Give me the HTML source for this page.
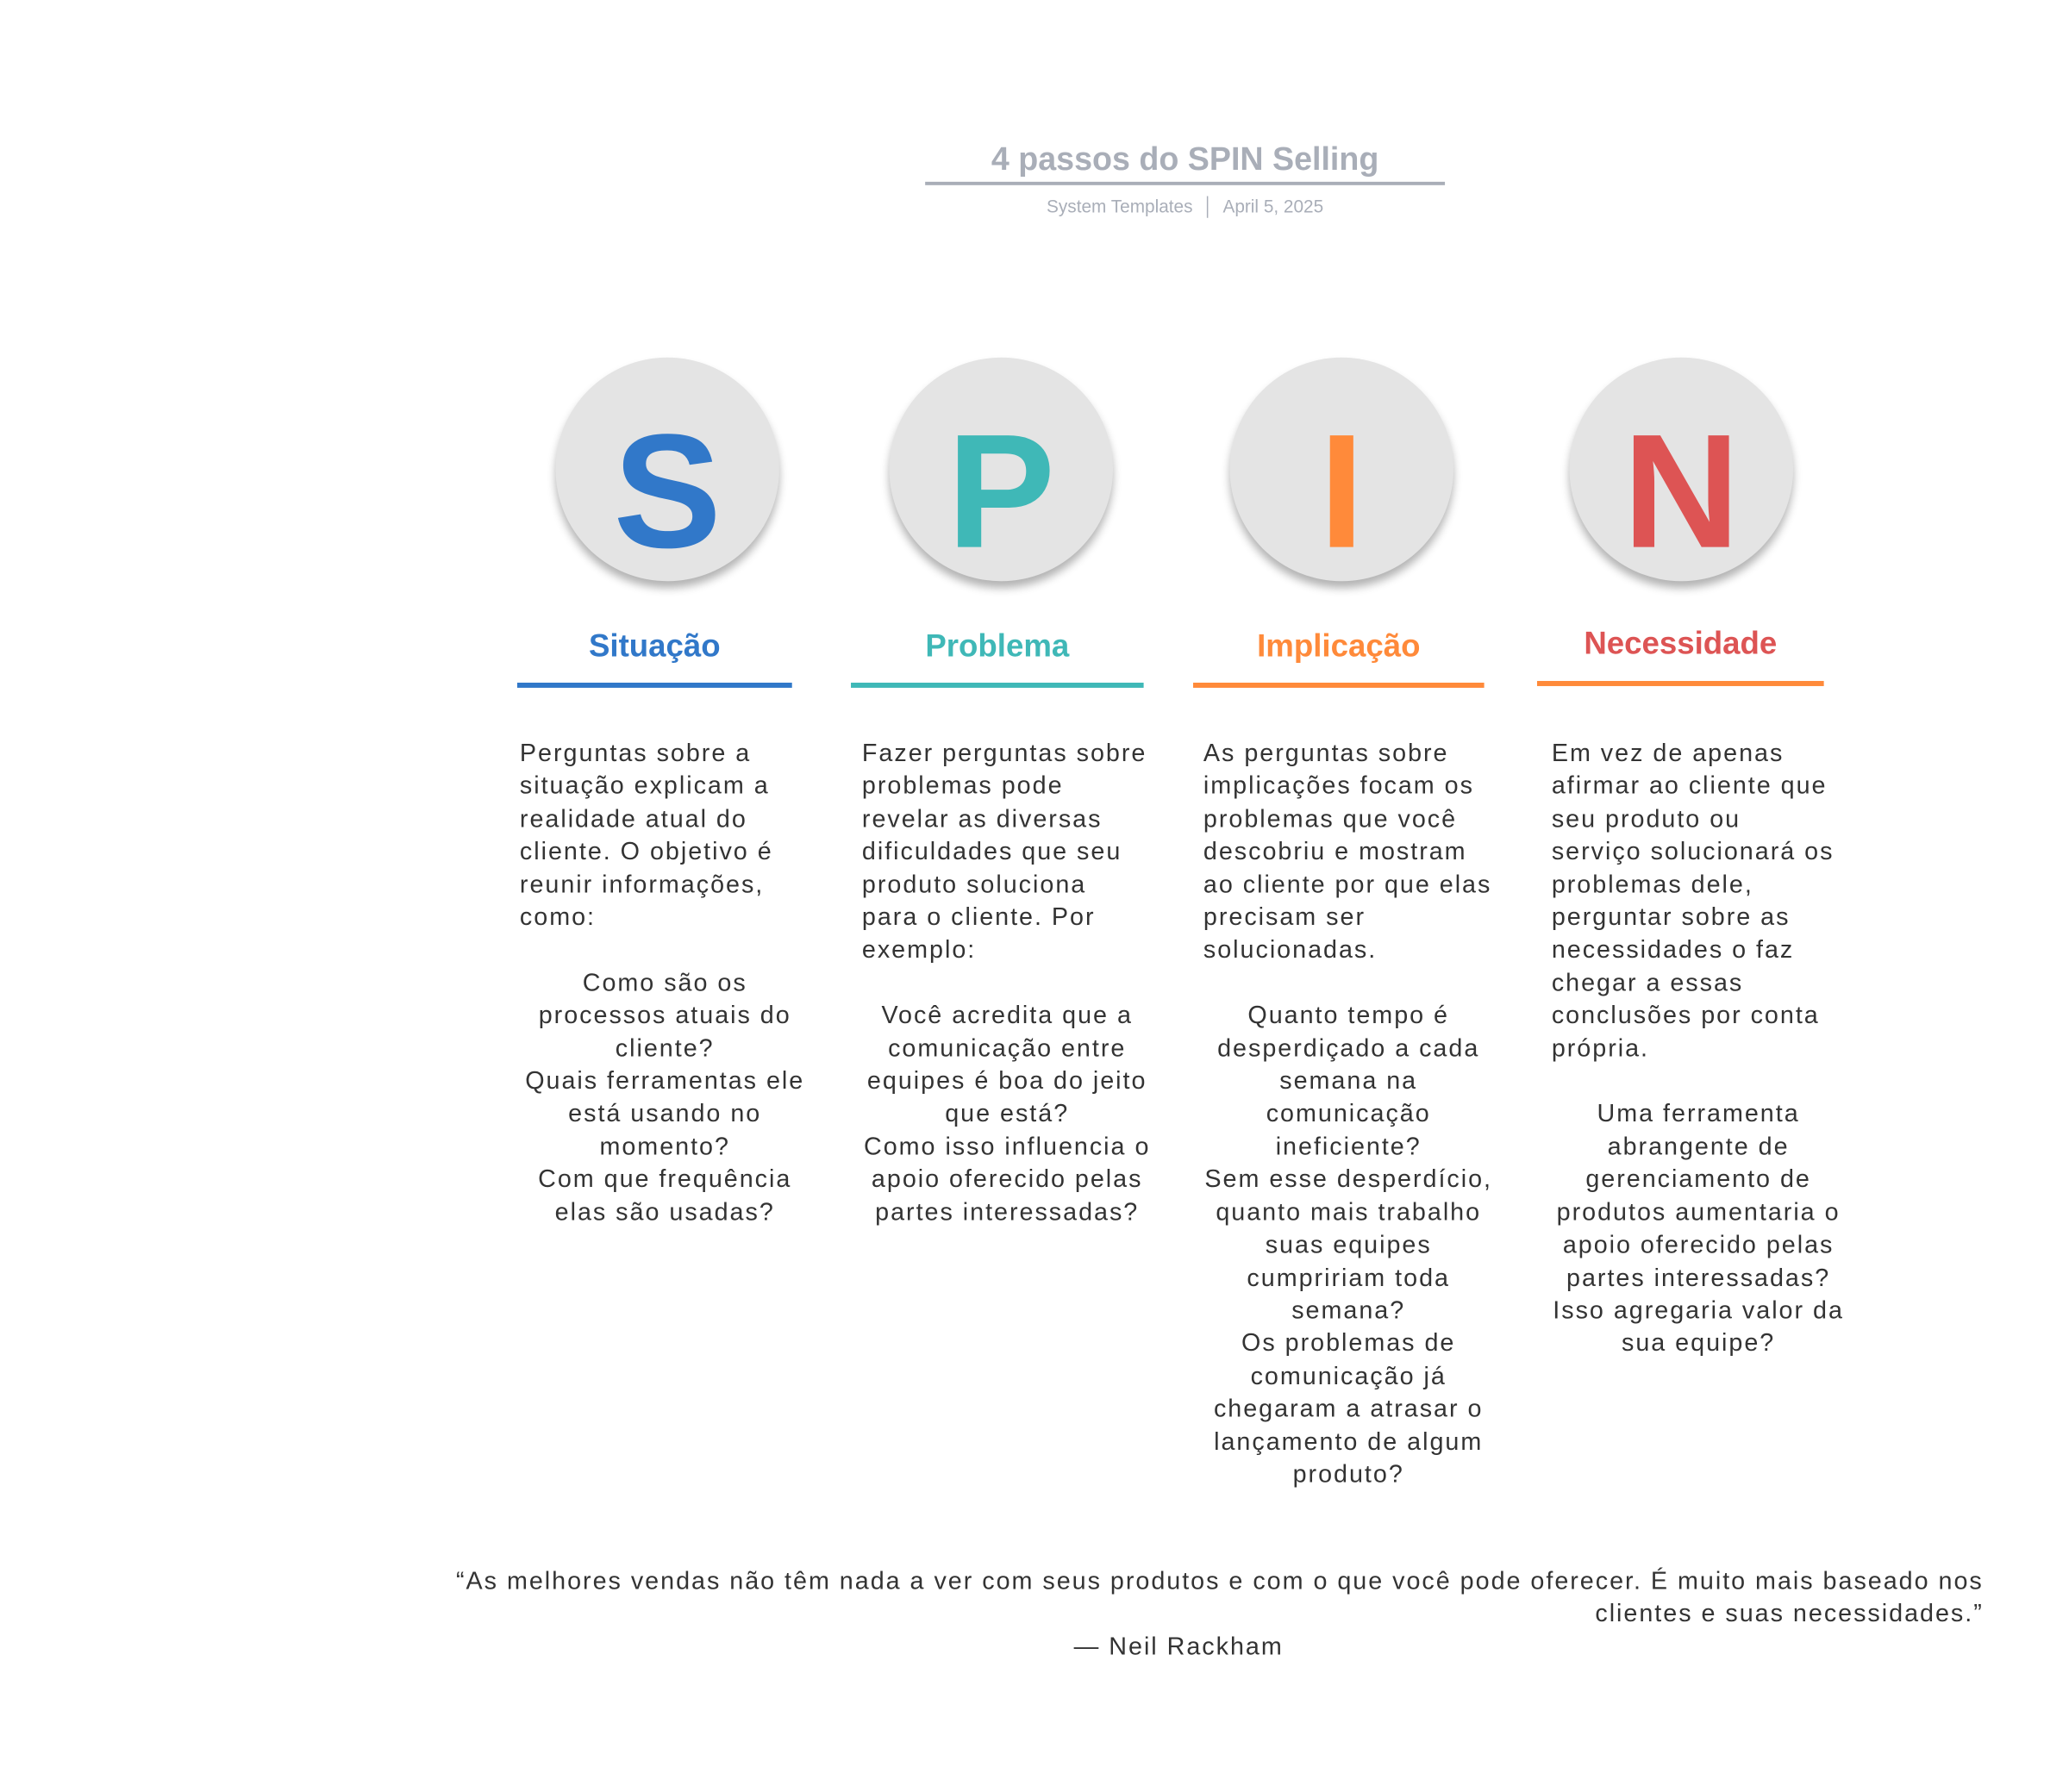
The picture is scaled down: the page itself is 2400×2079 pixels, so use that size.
<!DOCTYPE html>
<html><head><meta charset="utf-8"><style>
html,body{margin:0;padding:0;background:#fff}
body{width:2400px;height:2079px;position:relative;overflow:hidden;font-family:"Liberation Sans",Arial,sans-serif}
#w{position:absolute;left:0;top:0;width:2400px;height:2079px;transform:scale(0.99);transform-origin:0 0}
.abs{position:absolute}
.title{left:1084px;width:609px;top:166px;text-align:center;font-size:38px;font-weight:bold;color:#a9aeb8}
.tline{left:1084px;top:213px;width:609px;height:4px;background:#a9aeb8}
.sub{left:1084px;width:609px;top:231px;text-align:center;font-size:21px;color:#a9aeb8}
.circ{width:262px;height:262px;border-radius:50%;background:#e4e4e4;box-shadow:0 8px 10px rgba(0,0,0,0.3);top:419px}
.letter{width:262px;text-align:center;font-weight:bold;font-size:190px;line-height:262px;top:445px}
.head{font-weight:bold;font-size:37px;text-align:center;top:736px}
.bar{height:6px;top:800px}
.body{font-size:29px;line-height:38.4px;color:#333;top:864px;white-space:nowrap;letter-spacing:2px}
.c{text-align:center;display:block}
</style></head><body><div id="w">
<div class="abs title">4 passos do SPIN Selling</div>
<div class="abs tline"></div>
<div class="abs sub">System Templates &nbsp;│&nbsp; April 5, 2025</div>

<div class="abs circ" style="left:651px"></div>
<div class="abs circ" style="left:1042px"></div>
<div class="abs circ" style="left:1441px"></div>
<div class="abs circ" style="left:1839px"></div>
<div class="abs letter" style="left:651px;color:#3178c9">S</div>
<div class="abs letter" style="left:1042px;color:#3fb8b7">P</div>
<div class="abs letter" style="left:1441px;color:#ff8a3a">I</div>
<div class="abs letter" style="left:1839px;color:#dd5454">N</div>

<div class="abs head" style="left:606px;width:322px;color:#3178c9">Situação</div>
<div class="abs head" style="left:997px;width:343px;color:#3fb8b7">Problema</div>
<div class="abs head" style="left:1398px;width:341px;color:#ff8a3a">Implicação</div>
<div class="abs head" style="left:1801px;width:336px;color:#dd5454;top:733px">Necessidade</div>
<div class="abs bar" style="left:606px;width:322px;background:#3178c9"></div>
<div class="abs bar" style="left:997px;width:343px;background:#3fb8b7"></div>
<div class="abs bar" style="left:1398px;width:341px;background:#ff8a3a"></div>
<div class="abs bar" style="left:1801px;width:336px;background:#ff8a3a;top:798px"></div>

<div class="abs body" style="left:609px;width:340px">Perguntas sobre a<br>situação explicam a<br>realidade atual do<br>cliente. O objetivo é<br>reunir informações,<br>como:<br><br>
<span class="c">Como são os<br>processos atuais do<br>cliente?<br>Quais ferramentas ele<br>está usando no<br>momento?<br>Com que frequência<br>elas são usadas?</span></div>

<div class="abs body" style="left:1010px;width:340px">Fazer perguntas sobre<br>problemas pode<br>revelar as diversas<br>dificuldades que seu<br>produto soluciona<br>para o cliente. Por<br>exemplo:<br><br>
<span class="c">Você acredita que a<br>comunicação entre<br>equipes é boa do jeito<br>que está?<br>Como isso influencia o<br>apoio oferecido pelas<br>partes interessadas?</span></div>

<div class="abs body" style="left:1410px;width:340px">As perguntas sobre<br>implicações focam os<br>problemas que você<br>descobriu e mostram<br>ao cliente por que elas<br>precisam ser<br>solucionadas.<br><br>
<span class="c">Quanto tempo é<br>desperdiçado a cada<br>semana na<br>comunicação<br>ineficiente?<br>Sem esse desperdício,<br>quanto mais trabalho<br>suas equipes<br>cumpririam toda<br>semana?<br>Os problemas de<br>comunicação já<br>chegaram a atrasar o<br>lançamento de algum<br>produto?</span></div>

<div class="abs body" style="left:1818px;width:344px">Em vez de apenas<br>afirmar ao cliente que<br>seu produto ou<br>serviço solucionará os<br>problemas dele,<br>perguntar sobre as<br>necessidades o faz<br>chegar a essas<br>conclusões por conta<br>própria.<br><br>
<span class="c">Uma ferramenta<br>abrangente de<br>gerenciamento de<br>produtos aumentaria o<br>apoio oferecido pelas<br>partes interessadas?<br>Isso agregaria valor da<br>sua equipe?</span></div>

<div class="abs body" style="left:300px;width:2024px;top:1834px;text-align:right">“As melhores vendas não têm nada a ver com seus produtos e com o que você pode oferecer. É muito mais baseado nos<br>clientes e suas necessidades.”</div>
<div class="abs body" style="left:1081px;width:600px;top:1911px;text-align:center">— Neil Rackham</div>
</div></body></html>
